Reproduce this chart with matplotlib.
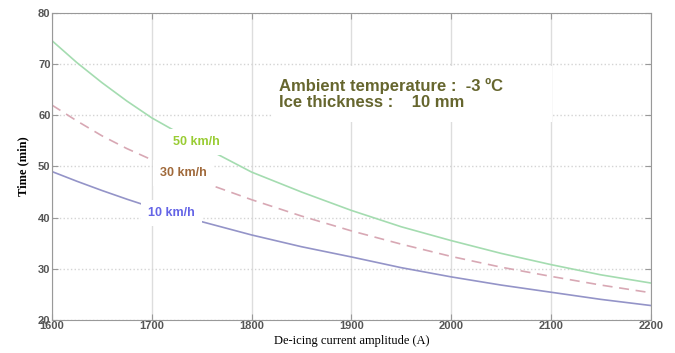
import matplotlib.pyplot as plt
from matplotlib.patches import Rectangle

# de-icing current (A)
current = [1600, 1625, 1650, 1675, 1700, 1750, 1800, 1850, 1900, 1950, 2000, 2050, 2100, 2150, 2200]

# de-icing time (min) per wind speed
t_50 = [74.6, 70.3, 66.4, 62.8, 59.5, 54.0, 48.9, 45.0, 41.4, 38.2, 35.5, 33.0, 30.8, 28.8, 27.2]
t_30 = [62.0, 58.9, 56.0, 53.5, 51.3, 47.0, 43.5, 40.3, 37.4, 34.8, 32.4, 30.3, 28.5, 26.8, 25.3]
t_10 = [49.0, 47.1, 45.3, 43.6, 42.0, 39.2, 36.6, 34.3, 32.3, 30.2, 28.4, 26.8, 25.4, 24.0, 22.8]

xticks = [1600, 1700, 1800, 1900, 2000, 2100, 2200]
yticks = [20, 30, 40, 50, 60, 70, 80]

fig = plt.figure(figsize=(6.75, 3.53), dpi=100)
ax = fig.add_axes([0.077, 0.094, 0.887, 0.869])

ax.plot(current, t_50, color='#a4dcb0', lw=1.2, zorder=2)
ax.plot(current, t_30, color='#d8a8b4', lw=1.2, ls=(0, (6, 4)), zorder=2)
ax.plot(current, t_10, color='#9494c8', lw=1.2, zorder=2)

ax.set_xlim(1600, 2200)
ax.set_ylim(20, 80)
ax.set_xticks(xticks)
ax.set_yticks(yticks)

# grid: vertical solid, horizontal dotted
ax.xaxis.grid(True, color='#dddddd', lw=1.0, ls='-', zorder=0)
ax.yaxis.grid(True, color='#d4d4d4', lw=1.0, ls=':', zorder=0)
ax.set_axisbelow(True)

for s in ax.spines.values():
    s.set_color('#999999')
ax.tick_params(direction='in', top=True, right=True, length=4, color='#999999',
               labelsize=8, labelcolor='#555555', pad=1)
for lab in ax.get_xticklabels() + ax.get_yticklabels():
    lab.set_fontweight('bold')
    lab.set_family('Liberation Sans')

ax.set_xlabel('De-icing current amplitude (A)', family='Liberation Serif', fontsize=9, labelpad=3)
ax.set_ylabel('Time (min)', family='Liberation Serif', fontsize=9, fontweight='bold', labelpad=6)

box = dict(facecolor='white', edgecolor='none', pad=5)
ax.text(1745, 54.8, '50 km/h', color='#99cc33', fontsize=9, fontweight='bold',
        family='Liberation Sans', ha='center', va='center', bbox=box, zorder=3)
ax.text(1732, 48.7, '30 km/h', color='#a0693a', fontsize=9, fontweight='bold',
        family='Liberation Sans', ha='center', va='center', bbox=box, zorder=3)
ax.text(1720, 40.9, '10 km/h', color='#6464e6', fontsize=9, fontweight='bold',
        family='Liberation Sans', ha='center', va='center', bbox=box, zorder=3)

# white box behind the conditions note
ax.add_patch(Rectangle((1821, 58.7), 280, 10.9, facecolor='white', edgecolor='none', zorder=1))
ax.text(1828, 64.2, 'Ambient temperature :  -3 ºC\nIce thickness :    10 mm',
        color='#66662e', fontsize=12, fontweight='bold', family='Liberation Sans',
        ha='left', va='center', linespacing=1.1, zorder=3)

plt.savefig('out.png', dpi=100)
